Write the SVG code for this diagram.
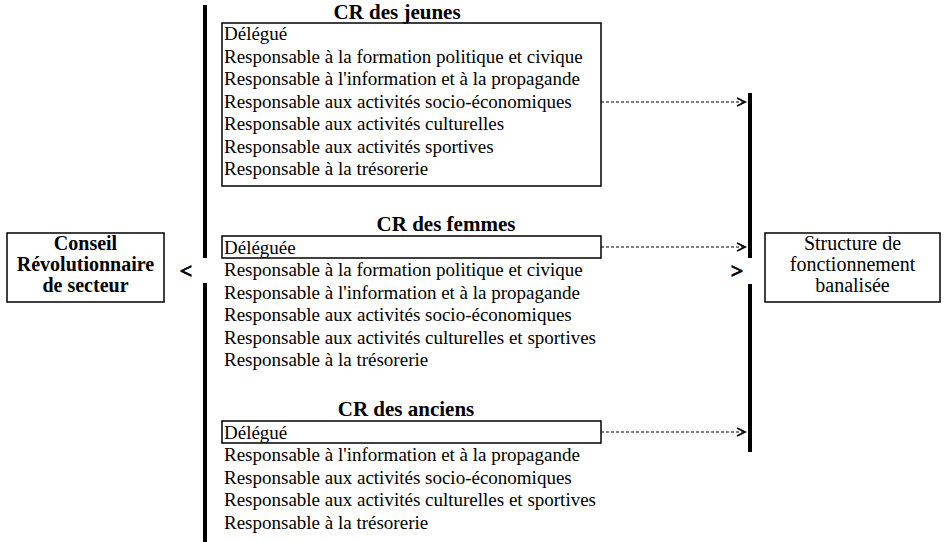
<svg xmlns="http://www.w3.org/2000/svg" width="945" height="542" viewBox="0 0 945 542">
<defs>
<style>
.t{font-family:"Liberation Serif","Times New Roman","DejaVu Serif",serif;font-size:19px;fill:#000}
.b{font-weight:bold}
.h{font-size:21px}
.lb{font-size:20px}
.rb{font-size:20px}
.ar{font-size:22px;stroke:#000;stroke-width:0.8}
.box{fill:none;stroke:#000;stroke-width:1.5}
.bar{fill:#000}
.dash{stroke:#000;stroke-width:1.2;stroke-dasharray:3 2;fill:none}
.head{stroke:#000;stroke-width:1.8;fill:none}
</style>
</defs>
<rect width="945" height="542" fill="#fff"/>

<g id="bars">
<rect class="bar" x="203" y="5" width="4" height="253"/>
<rect class="bar" x="203" y="283" width="4" height="259"/>
<rect class="bar" x="748" y="93" width="4" height="165"/>
<rect class="bar" x="748" y="284" width="4" height="168"/>
<text class="t b ar" x="186" y="278" text-anchor="middle" font-family="Liberation Serif, serif">&lt;</text>
<text class="t b ar" x="737" y="278" text-anchor="middle" font-family="Liberation Serif, serif">&gt;</text>
</g>

<g id="conseil">
<rect class="box" x="7" y="233" width="157" height="69"/>
<text class="t b lb" x="85.5" y="250" text-anchor="middle" font-family="Liberation Serif, serif">Conseil</text>
<text class="t b lb" x="85.5" y="271" text-anchor="middle" font-family="Liberation Serif, serif">Révolutionnaire</text>
<text class="t b lb" x="85.5" y="292" text-anchor="middle" font-family="Liberation Serif, serif">de secteur</text>
</g>

<g id="structure">
<rect class="box" x="765" y="233" width="175" height="69"/>
<text class="t rb" x="852.5" y="250" text-anchor="middle" font-family="Liberation Serif, serif">Structure de</text>
<text class="t rb" x="852.5" y="271" text-anchor="middle" font-family="Liberation Serif, serif">fonctionnement</text>
<text class="t rb" x="852.5" y="292" text-anchor="middle" font-family="Liberation Serif, serif">banalisée</text>
</g>

<g id="cr-jeunes">
<text class="t b h" x="397" y="19" text-anchor="middle" font-family="Liberation Serif, serif">CR des jeunes</text>
<rect class="box" x="222" y="23" width="379" height="163"/>
<text class="t" x="224" y="40" font-family="Liberation Serif, serif">Délégué</text>
<text class="t" x="224" y="62.5" font-family="Liberation Serif, serif">Responsable à la formation politique et civique</text>
<text class="t" x="224" y="85" font-family="Liberation Serif, serif">Responsable à l'information et à la propagande</text>
<text class="t" x="224" y="107.5" font-family="Liberation Serif, serif">Responsable aux activités socio-économiques</text>
<text class="t" x="224" y="130" font-family="Liberation Serif, serif">Responsable aux activités culturelles</text>
<text class="t" x="224" y="152.5" font-family="Liberation Serif, serif">Responsable aux activités sportives</text>
<text class="t" x="224" y="175" font-family="Liberation Serif, serif">Responsable à la trésorerie</text>
</g>

<g id="cr-femmes">
<text class="t b h" x="446" y="231" text-anchor="middle" font-family="Liberation Serif, serif">CR des femmes</text>
<rect class="box" x="222" y="236" width="379" height="22"/>
<text class="t" x="224" y="253.5" font-family="Liberation Serif, serif">Déléguée</text>
<text class="t" x="224" y="276" font-family="Liberation Serif, serif">Responsable à la formation politique et civique</text>
<text class="t" x="224" y="298.5" font-family="Liberation Serif, serif">Responsable à l'information et à la propagande</text>
<text class="t" x="224" y="321" font-family="Liberation Serif, serif">Responsable aux activités socio-économiques</text>
<text class="t" x="224" y="343.5" font-family="Liberation Serif, serif">Responsable aux activités culturelles et sportives</text>
<text class="t" x="224" y="366" font-family="Liberation Serif, serif">Responsable à la trésorerie</text>
</g>

<g id="cr-anciens">
<text class="t b h" x="406" y="416" text-anchor="middle" font-family="Liberation Serif, serif">CR des anciens</text>
<rect class="box" x="222" y="421" width="379" height="22"/>
<text class="t" x="224" y="438.5" font-family="Liberation Serif, serif">Délégué</text>
<text class="t" x="224" y="461" font-family="Liberation Serif, serif">Responsable à l'information et à la propagande</text>
<text class="t" x="224" y="483.5" font-family="Liberation Serif, serif">Responsable aux activités socio-économiques</text>
<text class="t" x="224" y="506" font-family="Liberation Serif, serif">Responsable aux activités culturelles et sportives</text>
<text class="t" x="224" y="528.5" font-family="Liberation Serif, serif">Responsable à la trésorerie</text>
</g>

<g id="connectors">
<line class="dash" x1="601" y1="102" x2="744" y2="102"/>
<polyline class="head" points="737,98 745,102 737,106"/>
<line class="dash" x1="601" y1="247" x2="744" y2="247"/>
<polyline class="head" points="737,243 745,247 737,251"/>
<line class="dash" x1="601" y1="432" x2="744" y2="432"/>
<polyline class="head" points="737,428 745,432 737,436"/>
</g>
</svg>
